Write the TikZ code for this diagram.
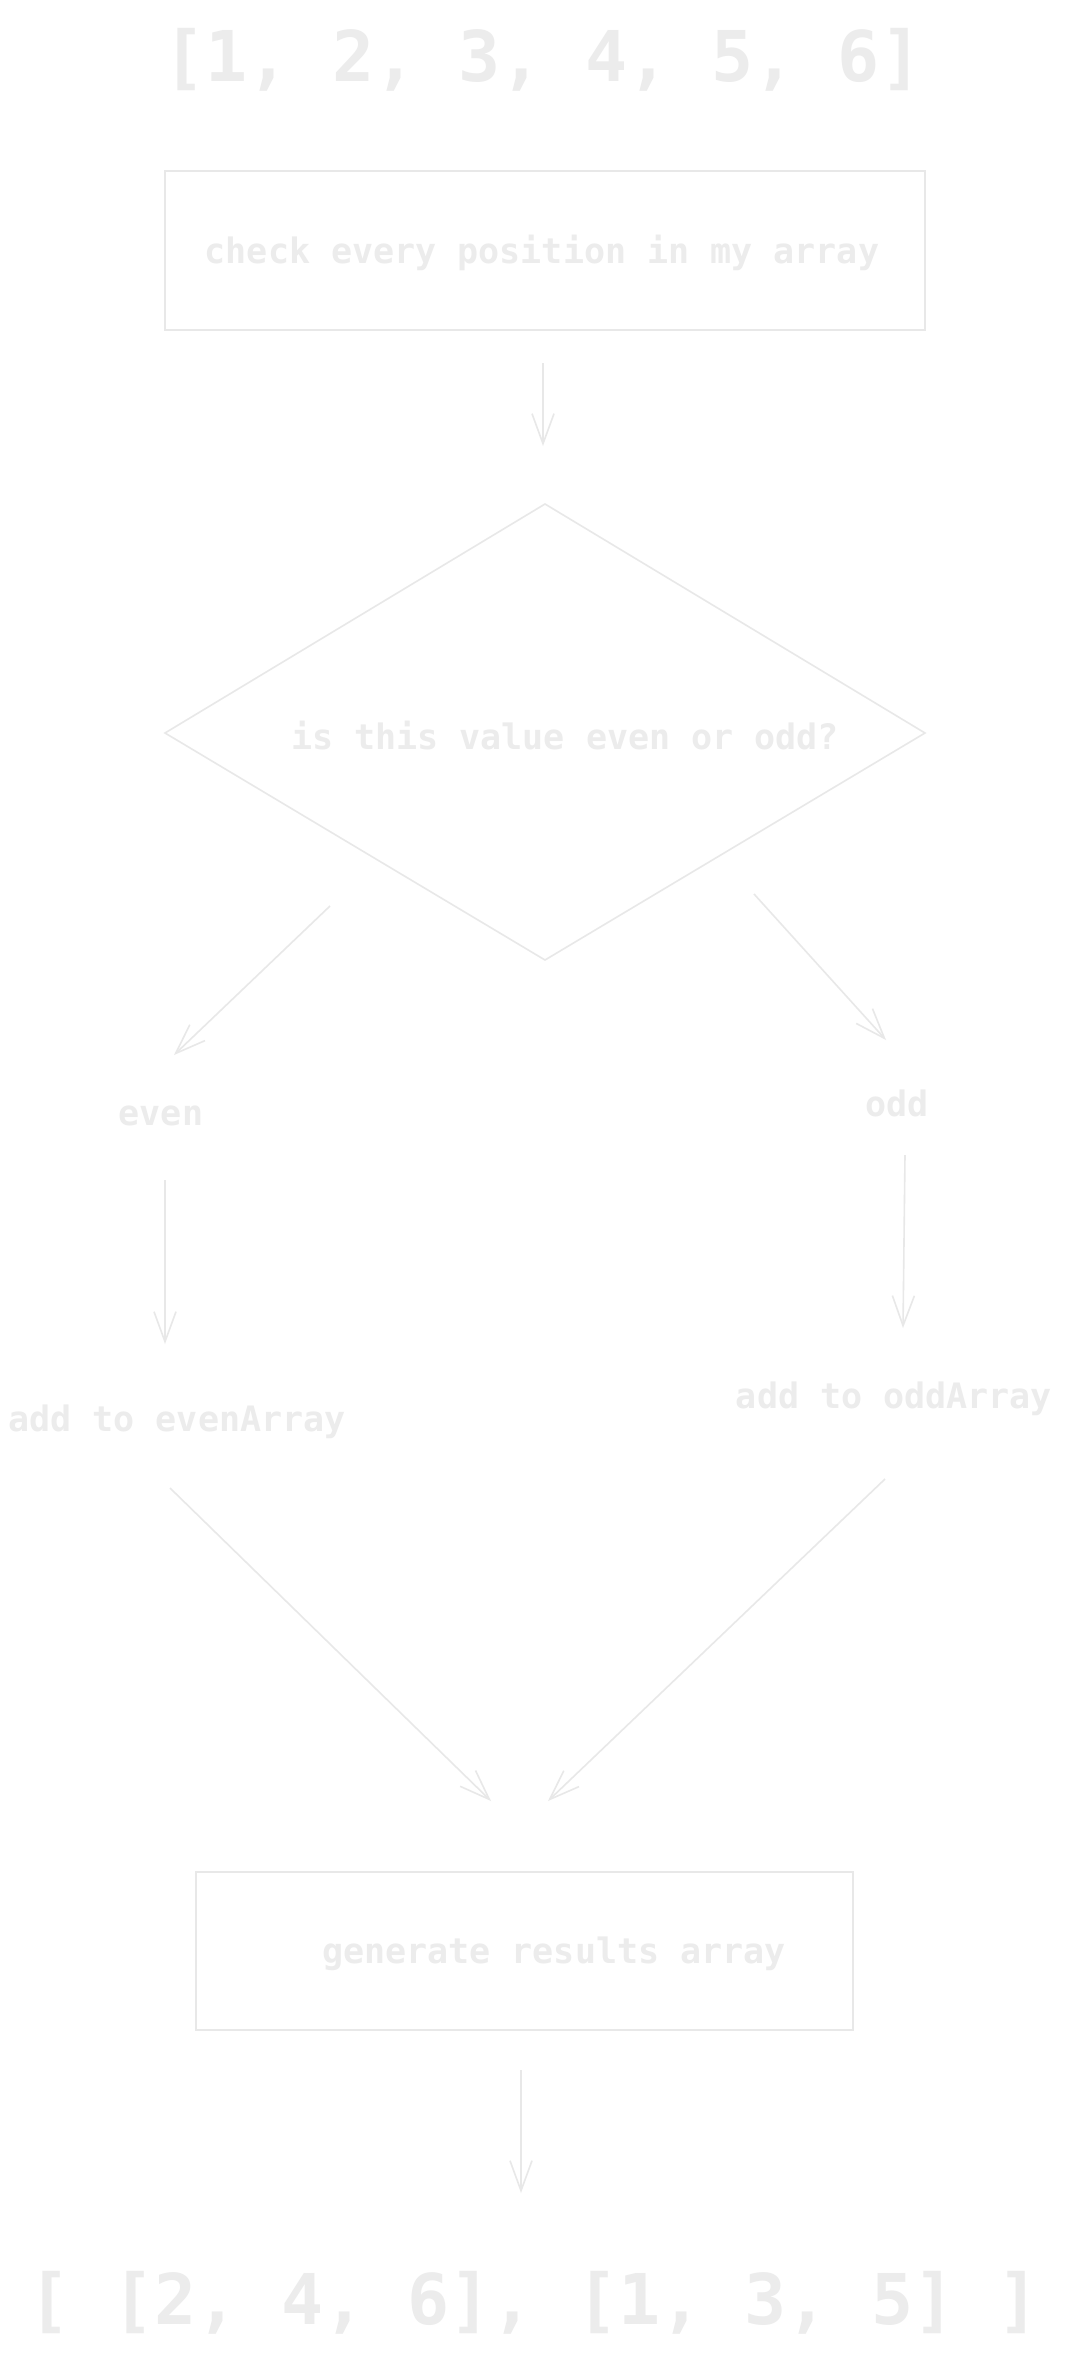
\documentclass[tikz,border=0pt]{standalone}
\usepackage{fontspec}
\setmonofont{DejaVu Sans Mono}
\usetikzlibrary{arrows.meta}
\definecolor{ink}{RGB}{236,236,236}
\definecolor{lineink}{RGB}{232,232,232}
\tikzset{
  big/.style={text=ink,font=\ttfamily\bfseries\fontsize{70}{80}\selectfont,inner sep=0pt},
  lbl/.style={text=ink,font=\ttfamily\bfseries\fontsize{35}{40}\selectfont,inner sep=0pt},
  boxline/.style={draw=lineink,line width=1.6pt},
  conn/.style={draw=lineink,line width=1.6pt,-{Straight Barb[length=30pt,width=22pt,line width=1.6pt]}}
}
\begin{document}
\begin{tikzpicture}[x=1pt,y=-1pt]
\useasboundingbox[fill=white] (0,0) rectangle (1065,2355);
% title
\node[big] (title) at (543,60) {[1, 2, 3, 4, 5, 6]};
% check box
\draw[boxline] (165,171) rectangle (925,330);
\node[lbl] (check) at (542,253) {check every position in my array};
\coordinate (c1a) at (543,363);
\coordinate (c1b) at (543,446);
\draw[conn] (c1a) -- (c1b);
% diamond
\coordinate (dt) at (545,504);
\coordinate (dl) at (165,733);
\coordinate (dr) at (925,733);
\coordinate (db) at (545,960);
\draw[boxline,line join=miter] (dt) -- (dr) -- (db) -- (dl) -- cycle;
\node[lbl] (q) at (565,736) {is this value even or odd?};
% branches
\coordinate (e1) at (330,906);
\coordinate (e2) at (174,1055);
\draw[conn] (e1) -- (e2);
\coordinate (o1) at (754,894);
\coordinate (o2) at (886,1040);
\draw[conn] (o1) -- (o2);
\node[lbl] (even) at (161,1116) {even};
\node[lbl] (odd) at (897,1103) {odd};
\coordinate (e3) at (165,1180);
\coordinate (e4) at (165,1344);
\draw[conn] (e3) -- (e4);
\coordinate (o3) at (905,1155);
\coordinate (o4) at (903,1328);
\draw[conn] (o3) -- (o4);
\node[lbl] (addeven) at (177,1422) {add to evenArray};
\node[lbl] (addodd) at (894,1399) {add to oddArray};
\coordinate (e5) at (170,1488);
\coordinate (e6) at (491,1801);
\draw[conn] (e5) -- (e6);
\coordinate (o5) at (885,1479);
\coordinate (o6) at (548,1801);
\draw[conn] (o5) -- (o6);
% results box
\draw[boxline] (196,1872) rectangle (853,2030);
\node[lbl] (gen) at (554,1954) {generate results array};
\coordinate (r1) at (521,2070);
\coordinate (r2) at (521,2193);
\draw[conn] (r1) -- (r2);
\node[big] (result) at (534,2303) {[ [2, 4, 6], [1, 3, 5] ]};
\end{tikzpicture}
\end{document}
